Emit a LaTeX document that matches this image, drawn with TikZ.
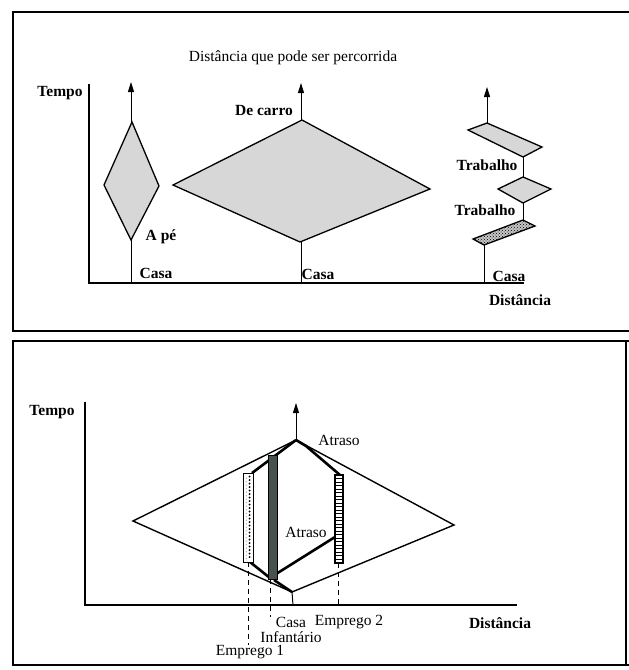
\documentclass[tikz,border=0pt]{standalone}
\usepackage{fontspec}
\setmainfont{Liberation Serif}
\usepackage{xcolor}
\usepackage{tikz}
\usetikzlibrary{arrows.meta, patterns}

\definecolor{prismgray}{RGB}{215,215,215}
\definecolor{infantgray}{RGB}{72,82,76}

\begin{document}
\begin{tikzpicture}[x=1pt, y=-1pt,
	frame/.style={line width=2pt},
	axis/.style={line width=2.2pt},
	prism/.style={draw, line width=1.3pt, fill=prismgray, line join=miter},
	timeline/.style={line width=1pt, -{Triangle[length=10pt, width=6pt]}},
	route/.style={line width=2.6pt},
	guide/.style={line width=0.8pt, dash pattern=on 5pt off 4pt},
	bold/.style={font=\fontsize{15.5}{17}\selectfont\bfseries, inner sep=0pt},
	plain/.style={font=\fontsize{15.5}{17}\selectfont, inner sep=0pt}]
	% Frames, axes, prisms and labels:
	\useasboundingbox (0, 0) rectangle (629, 670);
	\fill[white] (0, 0) rectangle (629, 670);
	\draw[frame] (629, 12) -- (13, 12) -- (13, 331) -- (629, 331);
	\draw[frame] (629, 341) -- (13, 341) -- (13, 665) -- (629, 665);
	\draw[frame] (626, 341) -- (626, 665);
	\node[plain](Title) at (293, 58){Distância que pode ser percorrida};
	\node[bold](Tempo1) at (60, 93){Tempo};
	\coordinate (O1) at (89, 283);
	\draw[axis] (89, 84) -- (O1) -- (524, 283);
	\node[bold](Dist1) at (520, 300){Distância};
	\coordinate (PeCasa) at (131, 283);
	\coordinate (PeTip) at (131, 82);
	\draw[timeline] (PeCasa) -- (PeTip);
	\draw[prism] (131, 240) -- (104, 185) -- (132, 122) -- (159, 186) -- cycle;
	\node[bold](APe) at (161, 237){A pé};
	\node[bold](Casa1) at (156, 273){Casa};
	\coordinate (CarroCasa) at (301, 283);
	\coordinate (CarroTip) at (301, 83);
	\draw[timeline] (CarroCasa) -- (CarroTip);
	\draw[prism] (300, 242) -- (173, 185) -- (302, 120) -- (430, 189) -- cycle;
	\node[bold](DeCarro) at (264, 110){De carro};
	\node[bold](Casa2) at (318, 274){Casa};
	\coordinate (TrabCasa) at (484, 283);
	\coordinate (TrabA) at (484, 245);
	\coordinate (TrabB) at (523, 220);
	\coordinate (TrabC) at (523, 203);
	\coordinate (TrabD) at (523, 177);
	\coordinate (TrabE) at (523, 157);
	\coordinate (TrabF) at (487, 123);
	\coordinate (TrabTip) at (487, 87);
	\draw[line width=1pt] (TrabCasa) -- (TrabA);
	\draw[line width=1pt] (TrabB) -- (TrabC);
	\draw[line width=1pt] (TrabD) -- (TrabE);
	\draw[timeline] (TrabF) -- (TrabTip);
	\draw[prism, preaction={fill=gray!45}, pattern=crosshatch dots] (TrabA) -- (473, 239) -- (TrabB) -- (535, 226) -- cycle;
	\draw[prism] (TrabC) -- (498, 189) -- (TrabD) -- (551, 189) -- cycle;
	\draw[prism] (TrabE) -- (542, 147) -- (TrabF) -- (468, 130) -- cycle;
	\node[bold](Trab1) at (487, 165){Trabalho};
	\node[bold](Trab2) at (485, 210){Trabalho};
	\node[bold](Casa3) at (509, 276){Casa};
	\node[bold](Tempo2) at (52, 412){Tempo};
	\coordinate (O2) at (85, 605);
	\draw[axis] (85, 402) -- (O2) -- (517, 605);
	\node[bold](Dist2) at (500, 623){Distância};
	\coordinate (CasaB) at (293, 605);
	\coordinate (Bot) at (292, 592);
	\coordinate (Top) at (296, 440);
	\coordinate (TopTip) at (296, 403);
	\draw[line width=1pt] (CasaB) -- (Bot);
	\draw[timeline] (Top) -- (TopTip);
	\draw[line width=1.4pt, line join=miter] (Bot) -- (133, 521) -- (Top) -- (454, 525) -- cycle;
	\draw[guide] (248, 562) -- (248, 645);
	\draw[guide] (270, 579) -- (270, 617);
	\draw[guide] (338, 563) -- (338, 604);
	\draw[route] (Bot) -- (274, 580);
	\draw[route] (250, 562) -- (270, 578);
	\draw[route] (276, 574) -- (335, 537);
	\draw[route] (252, 473) -- (Top);
	\draw[route] (Top) -- (306, 446) -- (340, 475);
	\draw[line width=1pt, fill=white] (243, 473) rectangle (253, 562);
	\draw[line width=1.8pt] (243.5, 473) -- (243.5, 562);
	\foreach \y in {476.5, 480, ..., 560}{
		\fill (249.6, \y) circle (1.1pt);
		\fill[gray!60] (246.4, \y + 1.7) circle (0.7pt);
	}
	\draw[line width=1pt, fill=infantgray] (268, 455) rectangle (277, 579);
	\draw[line width=1.2pt, fill=white] (335, 475) rectangle (343, 563);
	\foreach \y in {478.5, 482, ..., 561}
		\draw[line width=1pt] (335, \y) -- (343, \y);
	\node[plain](Atraso1) at (339, 440){Atraso};
	\node[plain](Atraso2) at (306, 532){Atraso};
	\node[plain](CasaL) at (291, 622){Casa};
	\node[plain](Emp2) at (349, 622){Emprego 2};
	\node[plain](Infant) at (291, 637){Infantário};
	\node[plain](Emp1) at (250, 652){Emprego 1};
\end{tikzpicture}
\end{document}
